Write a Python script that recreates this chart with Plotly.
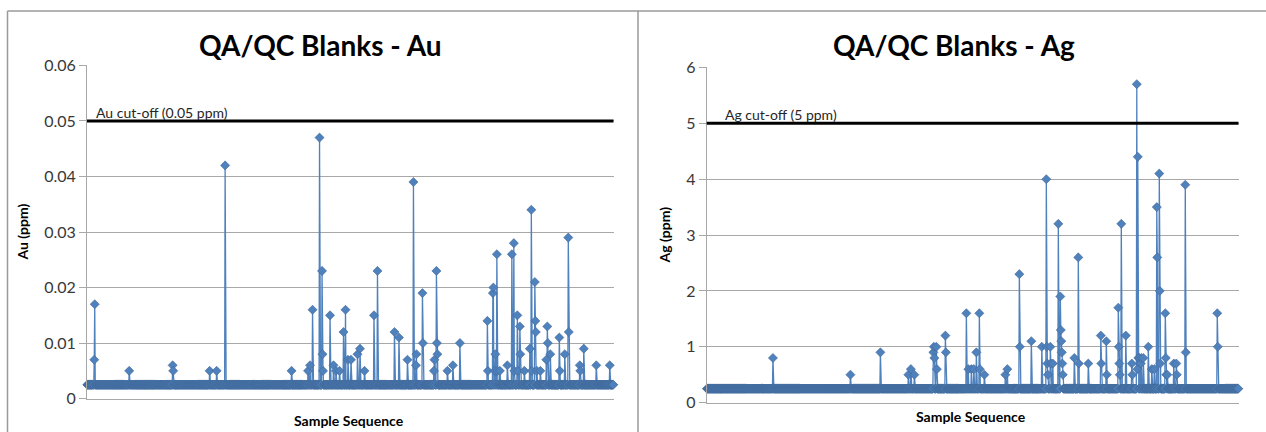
import plotly.graph_objects as go

# ---------------- data ----------------
AU_N = 1054                 # number of blank samples (Au)
AU_BASE = 0.0025            # half detection limit value
AU_CUTOFF = 0.05
au_spike_idx = [14, 84, 171, 245, 259, 276, 409, 442, 446, 451, 465, 470, 486, 493,
                498, 505, 513, 517, 522, 528, 541, 546, 555, 574, 581, 615, 624, 641,
                653, 658, 671, 694, 699, 721, 732, 746, 801, 812, 816, 820, 826, 841,
                850, 854, 861, 866, 875, 886, 889, 896, 900, 907, 919, 921, 927, 945,
                956, 963, 986, 994, 1019, 1046]
au_spike_vals = [[0.007, 0.017], [0.005], [0.006, 0.005], [0.005], [0.005], [0.042],
                 [0.005], [0.005], [0.006], [0.016], [0.047], [0.023, 0.008, 0.005],
                 [0.015], [0.006], [0.005], [0.005], [0.012], [0.016], [0.007], [0.007],
                 [0.008], [0.009], [0.005], [0.015], [0.023], [0.012], [0.011], [0.007],
                 [0.039], [0.006, 0.008], [0.019, 0.010], [0.005, 0.007],
                 [0.023, 0.010, 0.008], [0.005], [0.006], [0.010], [0.014, 0.005],
                 [0.019, 0.020], [0.005, 0.008], [0.026, 0.005], [0.005], [0.006],
                 [0.026], [0.028, 0.005], [0.015, 0.005], [0.013, 0.008], [0.005],
                 [0.009], [0.034, 0.005], [0.021, 0.014, 0.012], [0.005], [0.005],
                 [0.007], [0.013, 0.010], [0.008], [0.011, 0.005], [0.008],
                 [0.029, 0.012], [0.006, 0.005], [0.009], [0.006], [0.006]]

AG_N = 1064
AG_BASE = 0.25
AG_CUTOFF = 5
ag_spike_idx = [132, 287, 347, 403, 408, 415, 453, 459, 477, 519, 523, 529, 534, 539,
                545, 555, 597, 601, 625, 649, 670, 679, 687, 692, 703, 707, 735, 743,
                763, 788, 799, 823, 829, 838, 850, 860, 862, 865, 868, 873, 883, 890,
                895, 900, 905, 917, 921, 934, 939, 957, 1021]
ag_spike_vals = [[0.8], [0.5], [0.9], [0.5], [0.6], [0.5], [0.9, 1.0, 0.8], [1.0, 0.6],
                 [1.2, 0.9], [1.6], [0.6], [0.6], [0.6], [0.9], [1.6, 0.6], [0.5], [0.5],
                 [0.6], [2.3, 1.0], [1.1], [1.0], [4.0, 1.0, 0.7, 0.5], [1.0, 0.7], [0.7],
                 [3.2], [1.9, 1.3, 1.1, 0.9, 0.7, 0.5], [0.8], [2.6, 0.7], [0.7],
                 [1.2, 0.7], [1.1, 0.5], [1.7, 1.0, 0.7, 0.5], [3.2], [1.2], [0.7, 0.5],
                 [5.7, 0.6], [4.4, 0.8], [0.8], [0.7, 0.8], [0.8], [1.0], [0.6], [0.6],
                 [3.5, 2.6], [4.1, 2.0, 0.7], [1.6, 0.8, 0.5], [0.5], [0.7], [0.7, 0.5],
                 [3.9, 0.9], [1.6, 1.0]]


def build_series(n, base, idx, vals):
    y = [base] * n
    for i, vs in zip(idx, vals):
        for k, v in enumerate(vs):
            y[i + k] = v
    return list(range(1, n + 1)), y


au_x, au_y = build_series(AU_N, AU_BASE, au_spike_idx, au_spike_vals)
ag_x, ag_y = build_series(AG_N, AG_BASE, ag_spike_idx, ag_spike_vals)

# ---------------- figure ----------------
W, H = 1266, 432
TOP, H_EFF = 10, 412        # where the page actually shows the figure
FONT = "Lato"
BLUE = "#4F81BD"
GRID = "#A8A8A8"


def px(x):
    return x / W


def py(y):
    return 1 - (y - TOP) / H_EFF


fig = go.Figure()
marker = dict(symbol="diamond", size=7, color=BLUE, line=dict(width=0.6, color="#3F6796"))
fig.add_trace(go.Scatter(x=au_x, y=au_y, mode="lines+markers", line=dict(color=BLUE, width=1.3),
                         marker=marker, xaxis="x", yaxis="y", showlegend=False, cliponaxis=False))
fig.add_trace(go.Scatter(x=ag_x, y=ag_y, mode="lines+markers", line=dict(color=BLUE, width=1.3),
                         marker=marker, xaxis="x2", yaxis="y2", showlegend=False, cliponaxis=False))

xcommon = dict(showgrid=False, showticklabels=False, ticks="", zeroline=False,
               showline=True, linecolor=GRID, linewidth=1)
ycommon = dict(showgrid=True, gridcolor=GRID, gridwidth=1, zeroline=False,
               showline=True, linecolor=GRID, linewidth=1, ticks="outside", ticklen=7,
               tickcolor=GRID, tickfont=dict(family=FONT, size=16, color="#383838"))

fig.update_layout(
    width=W, height=H, margin=dict(l=0, r=0, t=0, b=0), autosize=False,
    paper_bgcolor="white", plot_bgcolor="white",
    xaxis=dict(domain=[px(87), px(613.5)], range=[0.5, AU_N + 0.5], anchor="y", **xcommon),
    yaxis=dict(domain=[py(397.7), py(65.3)], range=[0, 0.06], anchor="x",
               tickvals=[0, 0.01, 0.02, 0.03, 0.04, 0.05, 0.06],
               ticktext=["0", "0.01", "0.02", "0.03", "0.04", "0.05", "0.06"], **ycommon),
    xaxis2=dict(domain=[px(706.7), px(1238.5)], range=[0.5, AG_N + 0.5], anchor="y2", **xcommon),
    yaxis2=dict(domain=[py(401.7), py(67.3)], range=[0, 6], dtick=1, anchor="x2", **ycommon),
)

# cut-off lines
fig.add_shape(type="line", xref="x domain", yref="y", x0=0, x1=1, y0=AU_CUTOFF, y1=AU_CUTOFF,
              line=dict(color="black", width=3))
fig.add_shape(type="line", xref="x2 domain", yref="y2", x0=0, x1=1, y0=AG_CUTOFF, y1=AG_CUTOFF,
              line=dict(color="black", width=3))

# panel frames
frame = dict(color="#9A9A9A", width=1.5)
fig.add_shape(type="line", xref="paper", yref="paper", x0=px(7.5), x1=px(7.5), y0=py(440), y1=py(11),
              line=frame)
fig.add_shape(type="line", xref="paper", yref="paper", x0=px(7.5), x1=1, y0=py(11), y1=py(11), line=frame)
fig.add_shape(type="line", xref="paper", yref="paper", x0=px(638), x1=px(638), y0=py(440), y1=py(11),
              line=frame)


def label(text, x, y, size, angle=0):
    return dict(text=text, x=px(x), y=py(y), xref="paper", yref="paper", textangle=angle,
                xanchor="center", yanchor="middle", showarrow=False,
                font=dict(family=FONT, size=size, color="black"))


ann = [
    label("<b>QA/QC Blanks - Au</b>", 320, 45, 28),
    label("<b>QA/QC Blanks - Ag</b>", 954, 45, 28),
    label("<b>Au (ppm)</b>", 23, 232, 14, -90),
    label("<b>Ag (ppm)</b>", 665, 235, 14, -90),
    label("<b>Sample Sequence</b>", 349, 420, 14),
    label("<b>Sample Sequence</b>", 971, 416, 14),
    dict(text="Au cut-off (0.05 ppm)", x=0.013, y=AU_CUTOFF, xref="x domain", yref="y",
         xanchor="left", yanchor="bottom", yshift=-2, showarrow=False,
         font=dict(family=FONT, size=14, color="#262626")),
    dict(text="Ag cut-off (5 ppm)", x=0.03, y=AG_CUTOFF, xref="x2 domain", yref="y2",
         xanchor="left", yanchor="bottom", yshift=-2, showarrow=False,
         font=dict(family=FONT, size=14, color="#262626")),
]
fig.update_layout(annotations=ann)

fig.write_html("out.html", config={"displayModeBar": False},
               post_script="document.body.style.margin='0';document.body.style.overflow='hidden';")
